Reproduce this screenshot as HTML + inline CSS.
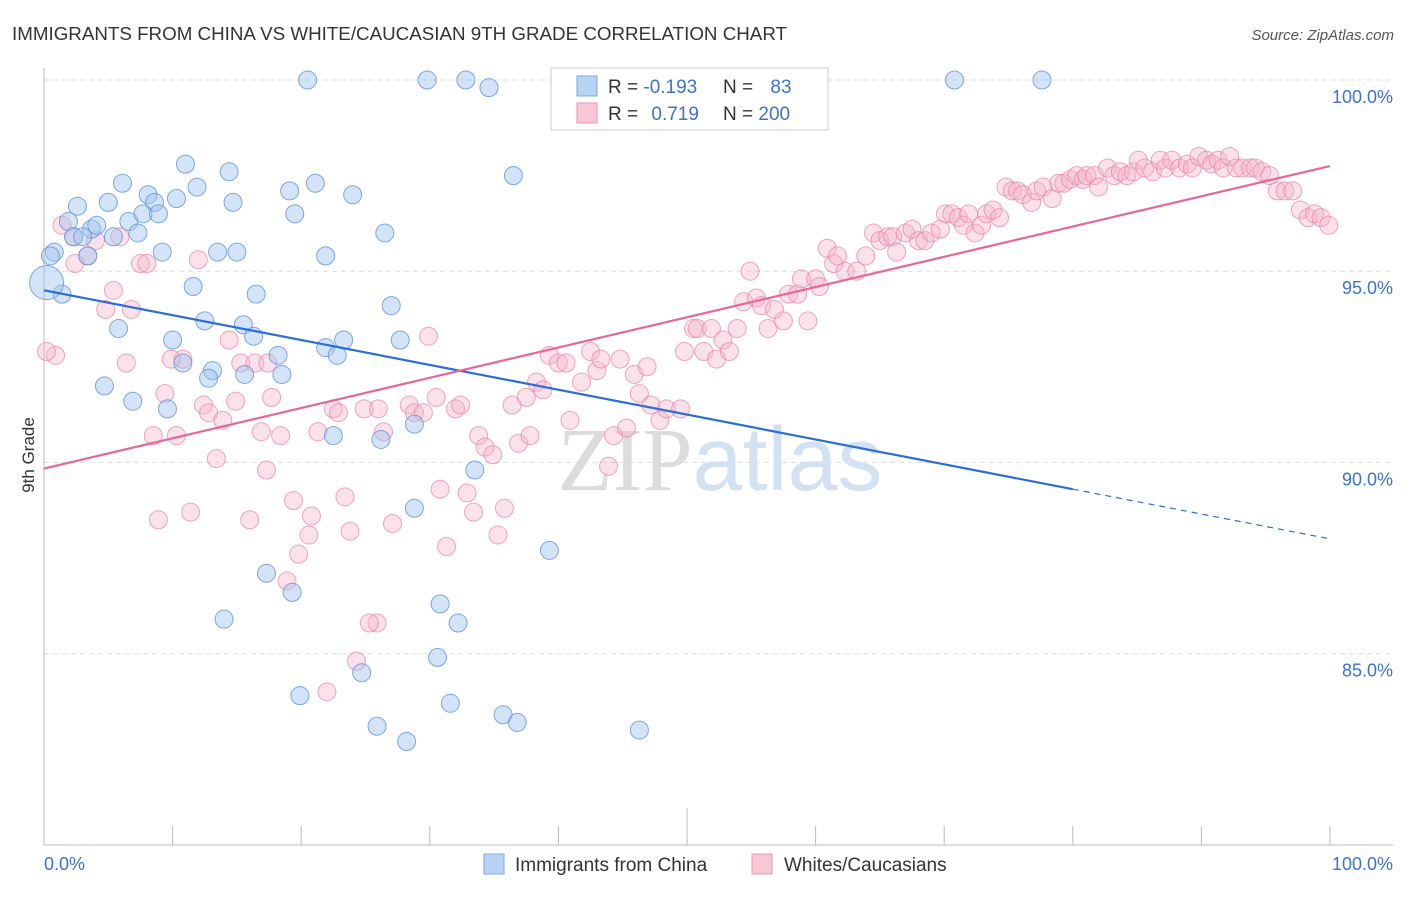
<!DOCTYPE html>
<html><head><meta charset="utf-8"><style>
body{margin:0;background:#fff;font-family:"Liberation Sans",sans-serif;}
svg text{font-family:"Liberation Sans",sans-serif;}
</style></head><body>
<svg id="chart" width="1406" height="892">
<text x="12" y="40" font-size="18" fill="#333" textLength="775" lengthAdjust="spacingAndGlyphs">IMMIGRANTS FROM CHINA VS WHITE/CAUCASIAN 9TH GRADE CORRELATION CHART</text>
<text x="1394" y="40" font-size="15" fill="#555" text-anchor="end" font-style="italic">Source: ZipAtlas.com</text>
<text x="34" y="455" font-size="17" fill="#333" text-anchor="middle" transform="rotate(-90 34 455)">9th Grade</text>
<g id="grid"></g>
<g id="axes"></g>
<text x="720" y="490" font-size="90" text-anchor="middle" fill="#e4e4e4"><tspan font-family="Liberation Serif" fill="#dcdcdc">ZIP</tspan><tspan fill="#d3e2f3">atlas</tspan></text>
<g id="pts"></g>
<g id="lines"></g>
<g>
<rect x="551" y="68" width="277" height="62" fill="#fff" stroke="#ccc"/>
<rect x="577" y="76" width="20" height="20" fill="#b9d3f5" stroke="#7aa7e3"/>
<rect x="577" y="103" width="20" height="20" fill="#f9c6d6" stroke="#eb97b2"/>
<text x="608" y="93" font-size="19" fill="#333">R = <tspan fill="#3b73d1">-0.193</tspan></text>
<text x="723" y="93" font-size="19" fill="#333">N = <tspan fill="#3b73d1" dx="12">83</tspan></text>
<text x="608" y="120" font-size="19" fill="#333">R = <tspan fill="#3b73d1" dx="8">0.719</tspan></text>
<text x="723" y="120" font-size="19" fill="#333">N = <tspan fill="#3b73d1">200</tspan></text>
</g>
<g>
<rect x="484" y="854" width="20" height="20" fill="#b9d3f5" stroke="#7aa7e3"/>
<text x="515" y="871" font-size="19" fill="#333">Immigrants from China</text>
<rect x="752" y="854" width="20" height="20" fill="#f9c6d6" stroke="#eb97b2"/>
<text x="784" y="871" font-size="19" fill="#333">Whites/Caucasians</text>
</g>
</svg>
<script>
const yTicks=[100,95,90,85];
const yTickLabels=["100.0%","95.0%","90.0%","85.0%"];
const xTicks=[0,10,20,30,40,50,60,70,80,90,100];
const xTickLabels=["0.0%","100.0%"];
const chinaX=[20.5,29.8,32.8,34.6,40.9,70.8,77.6,36.5,11.0,14.4,6.1,11.9,19.1,21.1,24.0,8.1,5.0,8.6,10.3,2.6,14.7,1.9,6.6,7.7,8.9,19.5,3.7,4.1,7.3,2.3,3.0,5.4,26.5,0.8,3.4,9.2,13.5,15.0,21.9,11.6,1.4,16.5,27.0,5.8,12.5,15.5,16.3,10.0,21.9,23.3,27.7,22.8,18.2,10.8,13.1,15.6,18.5,12.8,4.7,6.9,9.6,26.2,22.5,28.8,33.5,28.8,39.3,17.3,19.3,14.0,30.8,32.2,30.6,24.7,19.9,31.6,25.9,35.7,36.8,28.2,46.3,0.5];
const chinaY=[100,100,100,99.8,100,100,100,97.5,97.8,97.6,97.3,97.2,97.1,97.3,97.0,97.0,96.8,96.8,96.9,96.7,96.8,96.3,96.3,96.5,96.5,96.5,96.1,96.2,96.0,95.9,95.9,95.9,96.0,95.5,95.4,95.5,95.5,95.5,95.4,94.6,94.4,94.4,94.1,93.5,93.7,93.6,93.3,93.2,93.0,93.2,93.2,92.8,92.8,92.6,92.4,92.3,92.3,92.2,92.0,91.6,91.4,90.6,90.7,91.0,89.8,88.8,87.7,87.1,86.6,85.9,86.3,85.8,84.9,84.5,83.9,83.7,83.1,83.4,83.2,82.7,83.0,95.4];
const chinaBigX=[0.2];
const chinaBigY=[94.7];
const whiteX=[1.4,2.3,4.0,5.9,3.4,2.4,7.5,8.0,12.0,5.4,0.9,0.2,4.8,6.8,6.4,9.4,10.8,9.9,14.4,12.4,12.8,14.9,13.9,17.7,8.5,10.3,13.4,15.3,16.4,17.4,16.9,18.4,17.3,8.9,11.4,16.0,19.4,19.8,20.6,20.8,21.3,23.4,23.8,22.5,22.9,24.9,26.0,26.4,28.4,28.8,29.5,30.5,29.9,32.0,32.4,33.8,34.3,34.9,32.9,30.8,31.3,33.4,35.3,35.8,36.9,37.8,36.4,37.5,38.3,38.8,39.3,40.0,40.6,40.9,41.8,42.5,43.0,43.3,44.8,43.9,44.3,45.3,45.9,46.3,46.9,47.2,47.9,48.4,49.5,49.8,50.5,50.8,51.3,51.9,52.3,52.8,53.3,53.9,54.9,54.4,55.4,55.8,56.3,56.8,57.5,57.9,58.6,58.9,59.4,60.0,60.3,60.9,61.4,62.3,61.7,63.2,63.9,64.5,65.0,65.6,66.0,66.3,67.0,67.5,68.0,68.5,69.0,69.7,70.1,70.6,71.1,71.5,71.9,72.4,72.9,73.3,73.8,74.3,74.8,75.3,75.7,76.1,76.8,77.2,77.7,78.4,78.9,79.3,79.8,80.3,80.8,81.1,81.7,82.0,82.7,83.2,83.7,84.2,84.7,85.1,85.6,86.2,86.8,87.2,87.7,88.3,88.9,89.3,89.8,90.4,90.8,91.3,91.7,92.2,92.7,93.2,93.8,94.2,94.7,95.3,95.9,96.5,97.1,97.7,98.3,98.8,99.3,99.9,25.9,22.0,24.3,18.9,25.3,27.1];
const whiteY=[96.2,95.9,95.8,95.9,95.4,95.2,95.2,95.2,95.3,94.5,92.8,92.9,94.0,94.0,92.6,91.8,92.7,92.7,93.2,91.5,91.3,91.6,91.1,91.7,90.7,90.7,90.1,92.6,92.6,92.6,90.8,90.7,89.8,88.5,88.7,88.5,89.0,87.6,88.1,88.6,90.8,89.1,88.2,91.4,91.3,91.4,91.4,90.8,91.5,91.3,91.3,91.7,93.3,91.4,91.5,90.7,90.4,90.2,89.2,89.3,87.8,88.7,88.1,88.8,90.5,90.7,91.5,91.7,92.1,91.9,92.8,92.6,92.6,91.1,92.1,92.9,92.4,92.7,92.7,89.9,90.7,90.9,92.3,91.8,92.5,91.5,91.1,91.4,91.4,92.9,93.5,93.5,92.9,93.5,92.7,93.2,92.9,93.5,95.0,94.2,94.3,94.1,93.5,94.0,93.7,94.4,94.4,94.8,93.7,94.8,94.6,95.6,95.2,95.0,95.4,95.0,95.4,96.0,95.8,95.9,95.9,95.5,96.0,96.1,95.8,95.8,96.0,96.1,96.5,96.5,96.4,96.2,96.5,96.0,96.2,96.5,96.6,96.4,97.2,97.1,97.1,97.0,96.8,97.1,97.2,96.9,97.3,97.3,97.4,97.5,97.4,97.5,97.5,97.2,97.7,97.5,97.6,97.5,97.6,97.9,97.7,97.6,97.9,97.7,97.9,97.7,97.8,97.7,98.0,97.9,97.8,97.9,97.7,98.0,97.7,97.7,97.7,97.7,97.6,97.5,97.1,97.1,97.1,96.6,96.4,96.5,96.4,96.2,85.8,84.0,84.8,86.9,85.8,88.4];
const chinaTrend=[94.5,-0.065];
const whiteTrend=[89.84,0.0791];

const NS="http://www.w3.org/2000/svg";
const X0=44,X1=1330,Y100=80,PX5=191.2;
const xs=v=>X0+(X1-X0)*v/100;
const ys=v=>Y100+(100-v)/5*PX5;
function mk(tag,attrs,parent){const e=document.createElementNS(NS,tag);for(const k in attrs)e.setAttribute(k,attrs[k]);parent.appendChild(e);return e;}
const grid=document.getElementById('grid'),axes=document.getElementById('axes');
yTicks.forEach((t,i)=>{
 const l=mk('line',{x1:44,x2:1393,y1:ys(t),y2:ys(t),stroke:'#ddd','stroke-dasharray':'5,4'},grid);
 
 
 const tx=mk('text',{x:1393,y:ys(t)+23,'font-size':18,fill:'#3b73d1','text-anchor':'end'},axes);
 tx.textContent=yTickLabels[i];
 
 
});
const ax=mk('line',{x1:44,x2:1393,y1:845,y2:845,stroke:'#bbb'},axes);


const ay=mk('line',{x1:44,x2:44,y1:68,y2:845,stroke:'#bbb'},axes);


xTicks.forEach(t=>{
 const tk=mk('line',{x1:xs(t),x2:xs(t),y1:t===50?808:826,y2:845,stroke:'#bbb'},axes);
 
 
});
const xl0=mk('text',{x:44,y:870,'font-size':18,fill:'#3b73d1'},axes);xl0.textContent=xTickLabels[0];


const xl1=mk('text',{x:1393,y:870,'font-size':18,fill:'#3b73d1','text-anchor':'end'},axes);xl1.textContent=xTickLabels[1];


const pts=document.getElementById('pts');
whiteX.forEach((x,i)=>{
 const c=mk('circle',{cx:xs(x),cy:ys(whiteY[i]),r:9,fill:'rgba(246,180,202,0.4)',stroke:'rgba(232,130,165,0.7)','stroke-width':1},pts);
 
 
});
chinaX.forEach((x,i)=>{
 const c=mk('circle',{cx:xs(x),cy:ys(chinaY[i]),r:9,fill:'rgba(160,196,240,0.45)',stroke:'rgba(90,140,215,0.75)','stroke-width':1},pts);
 
 
});
chinaBigX.forEach((x,i)=>{
 const c=mk('circle',{cx:xs(x),cy:ys(chinaBigY[i]),r:17,fill:'rgba(160,196,240,0.45)',stroke:'rgba(90,140,215,0.75)','stroke-width':1},pts);
 
 
});
const lines=document.getElementById('lines');
const f=(tr,x)=>tr[0]+tr[1]*x;
const bl=mk('line',{x1:xs(0),y1:ys(f(chinaTrend,0)),x2:xs(80),y2:ys(f(chinaTrend,80)),stroke:'#2b6fd6','stroke-width':2.2},lines);


const bd=mk('line',{x1:xs(80),y1:ys(f(chinaTrend,80)),x2:xs(100),y2:ys(f(chinaTrend,100)),stroke:'#2b6fd6','stroke-width':1.2,'stroke-dasharray':'6,5'},lines);


const pl=mk('line',{x1:xs(0),y1:ys(f(whiteTrend,0)),x2:xs(100),y2:ys(f(whiteTrend,100)),stroke:'#e8669a','stroke-width':2.2},lines);


</script>
</body></html>
